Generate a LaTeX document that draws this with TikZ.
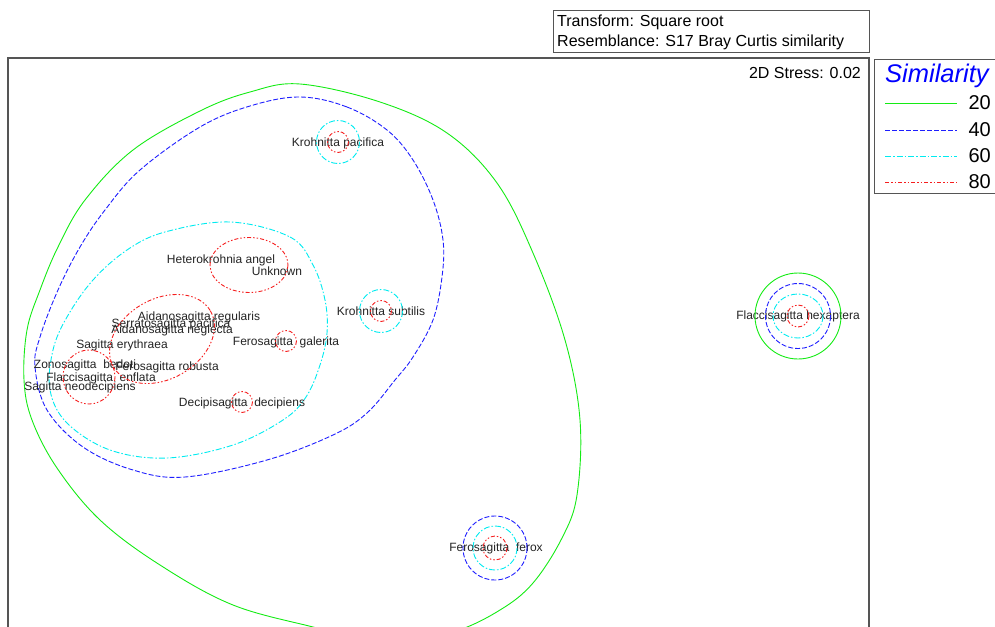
\documentclass[tikz,border=0pt]{standalone}
\usepackage{fontspec}
\setmainfont{Liberation Sans}
\usetikzlibrary{positioning}

\definecolor{framegray}{RGB}{85,85,85}
\definecolor{txtgray}{RGB}{35,35,35}
\definecolor{simgreen}{RGB}{20,235,20}
\definecolor{simblue}{RGB}{30,30,255}
\definecolor{simcyan}{RGB}{0,235,240}
\definecolor{simred}{RGB}{245,30,30}

\tikzset{
  sim20/.style={draw=simgreen, line width=0.9pt},
  sim40/.style={draw=simblue, line width=0.9pt, dash pattern=on 5pt off 2pt},
  sim60/.style={draw=simcyan, line width=0.9pt, dash pattern=on 6pt off 2pt on 1.5pt off 2pt},
  sim80/.style={draw=simred, line width=0.9pt, dash pattern=on 4pt off 2pt on 1.5pt off 2pt on 1.5pt off 2pt},
  species/.style={font=\fontsize{12}{12}\selectfont, text=txtgray, inner sep=0pt, text height=8.6pt, text depth=0pt},
  headtxt/.style={font=\fontsize{16}{16}\selectfont, text=black, inner sep=0pt},
}

\begin{document}
\begin{tikzpicture}[x=1pt, y=-1pt]
	\useasboundingbox (0,0) rectangle (995,626);
	\clip (0,0) rectangle (995,626);

	% header
	\draw[framegray, line width=0.9pt] (553,10) rectangle (869,52);
	\node[headtxt, anchor=base west] (trf) at (557,27) {Transform: Square root};
	\node[headtxt, anchor=base west] (res) at (557,47) {Resemblance: S17 Bray Curtis similarity};

	% plot frame
	\draw[framegray, line width=1.3pt] (8,660) -- (8,58) -- (869,58) -- (869,660);
	\node[headtxt, anchor=base east] (stress) at (861,78) {2D Stress: 0.02};

	% legend
	\draw[framegray, line width=0.9pt] (874,59) rectangle (1010,193);
	\node[anchor=base west, inner sep=0pt, text=blue, font=\fontsize{25.5}{25.5}\selectfont\itshape] (simhead) at (885,82) {Similarity};
	\foreach \v/\yy in {20/103, 40/130, 60/156, 80/182} {
		\draw[sim\v] (885,\yy) -- (957,\yy);
		\node[anchor=base east, inner sep=0pt, font=\fontsize{20}{20}\selectfont] (leg\v) at (991,\yy+6.5) {\v};
	}

	% 20% contour
	\draw[sim20] plot[smooth cycle, tension=0.6] coordinates {
		(300,84) (380,102) (447,133) (497,183) (533,253) (565,340) (580,420)
		(577,495) (562,538) (533,583) (500,610) (453,632) (385,645) (317,628)
		(233,605) (160,565) (100,520) (57,468) (32,420) (24,380) (27,330)
		(40,290) (58,247) (85,200) (133,150) (200,111) (250,92)};
	% 40% contour
	\draw[sim40] plot[smooth cycle, tension=0.6] coordinates {
		(300,97) (347,107) (387,130) (413,160) (433,200) (443,240) (442,277)
		(433,320) (413,357) (395,380) (367,413) (333,435) (267,460) (185,477)
		(133,470) (83,447) (47,410) (35,367) (40,337) (58,290) (80,247)
		(105,210) (140,170) (200,127) (250,106)};
	% 60% contour
	\draw[sim60] plot[smooth cycle, tension=0.6] coordinates {
		(230,222) (290,237) (313,265) (325,300) (327,333) (320,365) (306,397)
		(283,420) (233,445) (167,458) (110,450) (67,423) (50,390) (53,350)
		(67,317) (93,280) (127,250) (165,232)};

	% species
	\node[species] (kpac) at (338,142) {Krohnitta pacifica};
	\node[species] (hang) at (221,259) {Heterokrohnia angel};
	\node[species] (unk) at (277,271) {Unknown};
	\node[species] (areg) at (199,316) {Aidanosagitta regularis};
	\node[species] (spac) at (171,323) {Serratosagitta pacifica};
	\node[species] (aneg) at (172,329) {Aidanosagitta neglecta};
	\node[species] (sery) at (122,344) {Sagitta erythraea};
	\node[species] (fgal) at (286,341) {Ferosagitta\ \ galerita};
	\node[species] (zbed) at (85,364) {Zonosagitta\ \ bedoti};
	\node[species] (frob) at (167,366) {Ferosagitta robusta};
	\node[species] (fenf) at (101,377) {Flaccisagitta\ \ enflata};
	\node[species] (sneo) at (80,386) {Sagitta neodecipiens};
	\node[species] (ddec) at (242,402) {Decipisagitta\ \ decipiens};
	\node[species] (ksub) at (381,311) {Krohnitta subtilis};
	\node[species] (fhex) at (798,315) {Flaccisagitta hexaptera};
	\node[species] (ffer) at (496,547) {Ferosagitta\ \ ferox};

	% 80% groups
	\draw[sim80] (249,265) ellipse [x radius=39, y radius=27.5];
	\draw[sim80, rotate around={30:(162,339)}] (162,339) ellipse [x radius=56, y radius=40];
	\draw[sim80] (89,377) ellipse [x radius=26, y radius=27];
	\draw[sim80] (fgal.center) circle [radius=10.5];
	\draw[sim80] (ddec.center) circle [radius=10.5];
	\draw[sim80] (kpac.center) circle [radius=10.5];
	\draw[sim80] (ksub.center) circle [radius=10.5];
	\draw[sim60] (kpac.center) circle [radius=21.5];
	\draw[sim60] (ksub.center) circle [radius=21.5];

	% outliers
	\draw[sim80] (798,316) circle [radius=11];
	\draw[sim60] (798,316) ellipse [x radius=25, y radius=22];
	\draw[sim40] (798,316) circle [radius=32.5];
	\draw[sim20] (798,316) circle [radius=43];
	\draw[sim80] (495,548) circle [radius=12];
	\draw[sim60] (495,548) circle [radius=22];
	\draw[sim40] (495,548) circle [radius=32];
\end{tikzpicture}
\end{document}
